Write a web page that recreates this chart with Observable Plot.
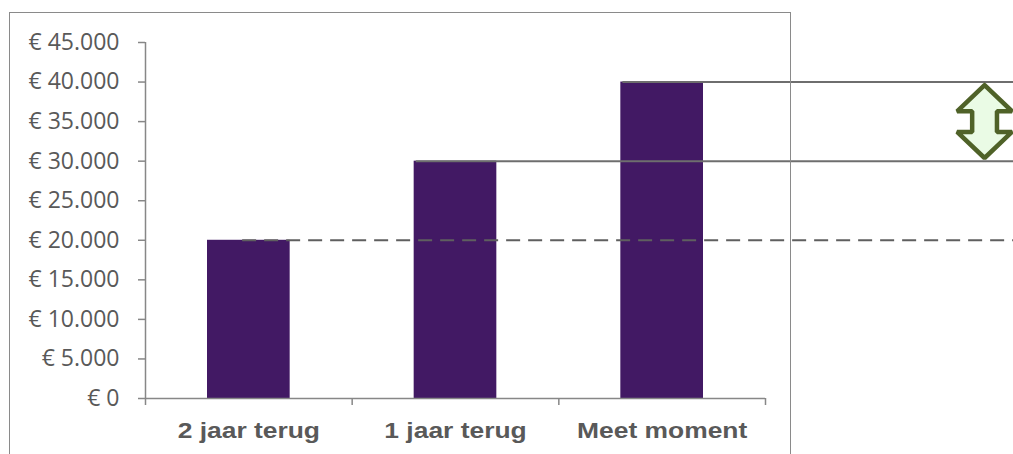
<!DOCTYPE html>
<html>
<head>
<meta charset="utf-8">
<script src="https://cdn.jsdelivr.net/npm/d3@7"></script>
<script src="https://cdn.jsdelivr.net/npm/@observablehq/plot@0.6"></script>
<style>
  html, body { margin: 0; padding: 0; background: #fff; overflow: hidden; width: 1013px; height: 454px; }
  #wrap { position: relative; width: 1013px; height: 454px; }
  #wrap svg { position: absolute; left: 0; top: 0; }
  #frame { position: absolute; left: 9px; top: 12px; width: 782px; height: 480px; border: 1.5px solid #8a8a8a; box-sizing: border-box; pointer-events: none; }
</style>
</head>
<body>
<div id="wrap"><div id="frame"></div></div>
<script>
// ---- data ----
const categories = ["2 jaar terug", "1 jaar terug", "Meet moment"];
const values = [20000, 30000, 40000];
const yTicks = [0, 5000, 10000, 15000, 20000, 25000, 30000, 35000, 40000, 45000];
const yTickLabels = ["€ 0", "€ 5.000", "€ 10.000", "€ 15.000", "€ 20.000", "€ 25.000", "€ 30.000", "€ 35.000", "€ 40.000", "€ 45.000"];

// table built from the arrays
const bars = categories.map((c, i) => ({category: c, index: i, value: values[i]}));

// reference lines at each bar's value, running to the right edge
const xEnd = 4.2;
const refLines = bars.map(b => ({y: b.value, x1: b.index === 0 ? b.index + 0.47 : b.index + 0.31, x2: xEnd, dashed: b.index === 0}));

// double arrow between the last two values
const arrowX = 4.06, headW = 0.133, shaftW = 0.06, headL = 3300, tipInset = 400;
const aTop = values[2] - tipInset, aBot = values[1] + tipInset;
const arrow = [
  [arrowX, aTop],
  [arrowX + headW, aTop - headL],
  [arrowX + shaftW, aTop - headL],
  [arrowX + shaftW, aBot + headL],
  [arrowX + headW, aBot + headL],
  [arrowX, aBot],
  [arrowX - headW, aBot + headL],
  [arrowX - shaftW, aBot + headL],
  [arrowX - shaftW, aTop - headL],
  [arrowX - headW, aTop - headL],
  [arrowX, aTop]
];

const gray = "#878787";
const textGray = "#595959";

const chart = Plot.plot({
  width: 1013,
  height: 454,
  marginLeft: 145,
  marginRight: 248,
  marginTop: 42,
  marginBottom: 56,
  style: {fontFamily: "'Open Sans', sans-serif", background: "transparent", overflow: "hidden"},
  x: {domain: [0, 3]},
  y: {domain: [0, 45000]},
  marks: [
    Plot.rectY(bars, {x1: d => d.index + 0.3, x2: d => d.index + 0.7, y: "value", fill: "#421964"}),
    Plot.ruleY(refLines.filter(d => d.dashed), {y: "y", x1: "x1", x2: "x2", stroke: "#5f5f5f", strokeWidth: 2, strokeDasharray: "14,8"}),
    Plot.ruleY(refLines.filter(d => !d.dashed), {y: "y", x1: "x1", x2: "x2", stroke: "#6e6e6e", strokeWidth: 2}),
    Plot.line(arrow, {x: d => d[0], y: d => d[1], stroke: "#4f6228", strokeWidth: 4.5, fill: "#eafbe5", strokeLinejoin: "miter", curve: "linear"}),
    Plot.ruleX([0], {y1: 0, y2: 45000, stroke: gray, strokeWidth: 1.5}),
    Plot.ruleY([0], {x1: 0, x2: 3, stroke: gray, strokeWidth: 1.5}),
    Plot.axisY({ticks: yTicks, tickSize: 7, tickPadding: 19, tickFormat: d => yTickLabels[yTicks.indexOf(d)], fontSize: 23, fill: textGray, stroke: gray, strokeWidth: 1.5, label: null}),
    Plot.axisX({ticks: [0, 1, 2, 3], tickSize: 7, tickFormat: () => "", stroke: gray, strokeWidth: 1.5, label: null}),
    Plot.text(bars, {x: d => d.index + 0.5, y: 0, text: "category", dy: 32, fontSize: 22, fontWeight: "bold", fontFamily: "'Liberation Sans', Arial, sans-serif", fill: textGray})
  ]
});

document.getElementById("wrap").insertBefore(chart, document.getElementById("frame"));

// widen the category labels to match the reference's stretched lettering
chart.querySelectorAll('g[aria-label="text"] text').forEach(t => {
  const w = t.getComputedTextLength();
  t.setAttribute("textLength", (w * 1.2).toFixed(1));
  t.setAttribute("lengthAdjust", "spacingAndGlyphs");
});
</script>
</body>
</html>
